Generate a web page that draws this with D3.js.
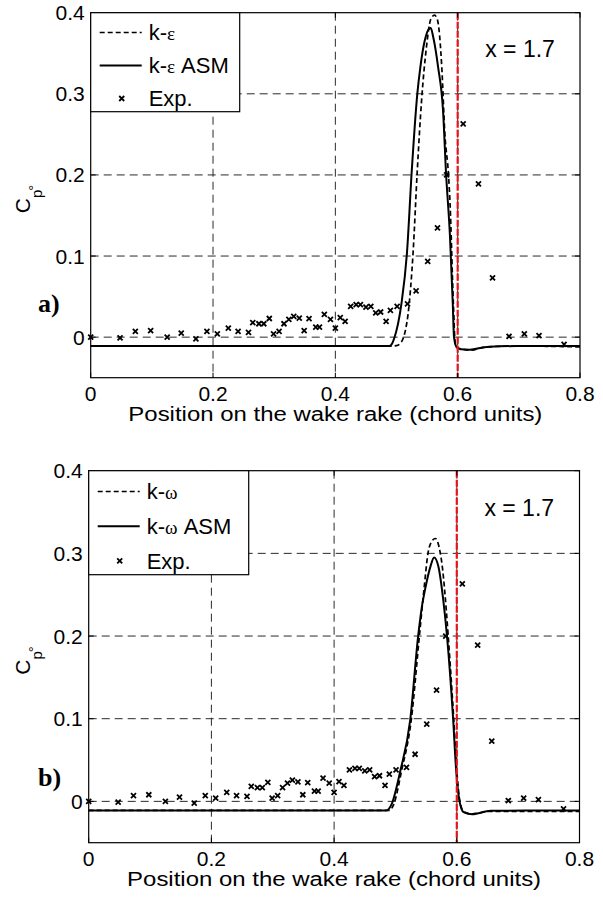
<!DOCTYPE html>
<html><head><meta charset="utf-8">
<script src="https://cdn.jsdelivr.net/npm/d3@7"></script>
<style>
html,body{margin:0;padding:0;background:#fff;}
svg{display:block;}
text{font-family:"Liberation Sans",Arial,sans-serif;fill:#000;}
</style></head><body>
<svg id="chart" width="603" height="899"></svg>
<script>
// ---------------- data ----------------
const xTicks = [0, 0.2, 0.4, 0.6, 0.8];
const xTickLabels = ["0", "0.2", "0.4", "0.6", "0.8"];
const yTicks = [0, 0.1, 0.2, 0.3, 0.4];
const yTickLabels = ["0", "0.1", "0.2", "0.3", "0.4"];
const xTitle = "Position on the wake rake (chord units)";
const stationLabel = "x = 1.7";
const markerLine = 0.6;

// experimental points (same measurement in both panels)
const expX = [0, 0.048, 0.073, 0.098, 0.125, 0.148, 0.172, 0.190, 0.207, 0.225, 0.241, 0.258,
  0.265, 0.275, 0.283, 0.292, 0.299, 0.308, 0.316, 0.324, 0.332, 0.341, 0.349, 0.357, 0.368,
  0.374, 0.382, 0.392, 0.400, 0.408, 0.416, 0.425, 0.434, 0.441, 0.450, 0.458, 0.466, 0.474,
  0.483, 0.490, 0.501, 0.518, 0.532, 0.551, 0.567, 0.582, 0.609, 0.634, 0.657, 0.684, 0.709,
  0.733, 0.774];
const expY = [0, -0.001, 0.007, 0.008, 0.0, 0.005, -0.002, 0.007, 0.004, 0.011, 0.007, 0.006,
  0.018, 0.0165, 0.0165, 0.023, 0.004, 0.007, 0.0165, 0.022, 0.0256, 0.0235, 0.008, 0.0227, 0.0123,
  0.0123, 0.028, 0.022, 0.011, 0.024, 0.0194, 0.038, 0.040, 0.040, 0.037, 0.038, 0.030, 0.031,
  0.0194, 0.033, 0.038, 0.041, 0.057, 0.0935, 0.1346, 0.200, 0.263, 0.189, 0.073, 0.001, 0.004,
  0.002, -0.009];

// panel a) k-epsilon
const keX = [0, 0.49, 0.5, 0.508, 0.515, 0.519, 0.527, 0.534, 0.541, 0.549, 0.556, 0.562, 0.567,
  0.574, 0.579, 0.585, 0.5875, 0.593, 0.596, 0.599, 0.62, 0.647, 0.7, 0.8];
const keY = [-0.011, -0.011, -0.0105, -0.006, 0.01, 0.029, 0.103, 0.206, 0.292, 0.358, 0.392, 0.397, 0.391,
  0.333, 0.251, 0.2, 0.165, 0.041, -0.008, -0.013, -0.016, -0.012, -0.011, -0.012];
const keAsmX = [0, 0.488, 0.492, 0.496, 0.508, 0.517, 0.525, 0.534, 0.539, 0.546, 0.553, 0.556, 0.560,
  0.568, 0.576, 0.581, 0.5875, 0.592, 0.594, 0.598, 0.605, 0.62, 0.647, 0.697, 0.8];
const keAsmY = [-0.011, -0.011, -0.009, -0.002, 0.041, 0.103, 0.206, 0.30, 0.333, 0.365, 0.38, 0.381, 0.370,
  0.333, 0.28, 0.202, 0.123, 0.041, 0.0, -0.012, -0.015, -0.0156, -0.012, -0.011, -0.011];

// panel b) k-omega
const kwX = [0, 0.49, 0.497, 0.51, 0.526, 0.539, 0.547, 0.553, 0.558, 0.565, 0.571, 0.577, 0.583,
  0.586, 0.595, 0.6, 0.605, 0.612, 0.625, 0.655, 0.8];
const kwY = [-0.011, -0.011, -0.004, 0.037, 0.1, 0.2, 0.26, 0.30, 0.313, 0.318, 0.308, 0.28, 0.23,
  0.2, 0.1, 0.037, 0.0, -0.013, -0.015, -0.012, -0.012];
const kwAsmX = [0, 0.485, 0.494, 0.508, 0.524, 0.537, 0.543, 0.549, 0.557, 0.563, 0.570, 0.578, 0.584,
  0.594, 0.599, 0.604, 0.611, 0.625, 0.655, 0.8];
const kwAsmY = [-0.011, -0.011, -0.003, 0.037, 0.098, 0.2, 0.235, 0.259, 0.284, 0.295, 0.284, 0.243, 0.2,
  0.1, 0.037, 0.002, -0.013, -0.0155, -0.0113, -0.011];

// ---------------- drawing ----------------
const svg = d3.select("#chart");
const FS = 21;

const panels = [
  {tag: "a)", left: 90.7, right: 580, top: 12.7, bottom: 377.7,
   dashX: keX, dashY: keY, solidX: keAsmX, solidY: keAsmY,
   greek: "\u03B5", legendW: 149, legendH: 99, tagY: 312},
  {tag: "b)", left: 88.7, right: 579.5, top: 470.7, bottom: 842.7,
   dashX: kwX, dashY: kwY, solidX: kwAsmX, solidY: kwAsmY,
   greek: "\u03C9", legendW: 160, legendH: 104, tagY: 786}
];

const zip = (xs, ys) => xs.map((x, i) => [x, ys[i]]);

panels.forEach(p => {
  const g = svg.append("g");
  const x = d3.scaleLinear().domain([0, 0.8]).range([p.left, p.right]);
  const y = d3.scaleLinear().domain([-0.05, 0.4]).range([p.bottom, p.top]);

  // grid
  g.selectAll(".gx").data(xTicks.filter(t => t > 0 && t < 0.8)).enter().append("line")
    .attr("x1", d => x(d)).attr("x2", d => x(d)).attr("y1", p.top).attr("y2", p.bottom)
    .attr("stroke", "#2a2a2a").attr("stroke-width", 1).attr("stroke-dasharray", "8,5");
  g.selectAll(".gy").data(yTicks.filter(t => t < 0.4)).enter().append("line")
    .attr("y1", d => y(d)).attr("y2", d => y(d)).attr("x1", p.left).attr("x2", p.right)
    .attr("stroke", "#2a2a2a").attr("stroke-width", 1).attr("stroke-dasharray", "8,5");

  const line = d3.line().x(d => x(d[0])).y(d => y(d[1])).curve(d3.curveMonotoneX);

  // curves
  g.append("path").datum(zip(p.solidX, p.solidY)).attr("d", line)
    .attr("fill", "none").attr("stroke", "#000").attr("stroke-width", 2);
  g.append("path").datum(zip(p.dashX, p.dashY)).attr("d", line)
    .attr("fill", "none").attr("stroke", "#000").attr("stroke-width", 1.7)
    .attr("stroke-dasharray", "5,3");

  // experimental markers
  const mk = 2.5;
  const cross = (cx, cy) => `M${cx-mk},${cy-mk}L${cx+mk},${cy+mk}M${cx-mk},${cy+mk}L${cx+mk},${cy-mk}`;
  g.selectAll(".exp").data(zip(expX, expY)).enter().append("path")
    .attr("d", d => cross(x(d[0]), y(d[1])))
    .attr("stroke", "#000").attr("stroke-width", 1.8).attr("fill", "none");

  // red marker line
  g.append("line").attr("x1", x(markerLine)).attr("x2", x(markerLine))
    .attr("y1", p.top).attr("y2", p.bottom)
    .attr("stroke", "#e8141b").attr("stroke-width", 2.2).attr("stroke-dasharray", "7,2");

  // box
  g.append("rect").attr("x", p.left).attr("y", p.top)
    .attr("width", p.right - p.left).attr("height", p.bottom - p.top)
    .attr("fill", "none").attr("stroke", "#000").attr("stroke-width", 1.2);

  // ticks (inward, all sides)
  const tl = 5;
  xTicks.forEach(t => {
    g.append("line").attr("x1", x(t)).attr("x2", x(t)).attr("y1", p.bottom).attr("y2", p.bottom - tl)
      .attr("stroke", "#000");
    g.append("line").attr("x1", x(t)).attr("x2", x(t)).attr("y1", p.top).attr("y2", p.top + tl)
      .attr("stroke", "#000");
  });
  yTicks.forEach(t => {
    g.append("line").attr("x1", p.left).attr("x2", p.left + tl).attr("y1", y(t)).attr("y2", y(t))
      .attr("stroke", "#000");
    g.append("line").attr("x1", p.right).attr("x2", p.right - tl).attr("y1", y(t)).attr("y2", y(t))
      .attr("stroke", "#000");
  });

  // tick labels
  g.selectAll(".xl").data(xTicks).enter().append("text")
    .attr("x", d => x(d)).attr("y", p.bottom + 23).attr("text-anchor", "middle")
    .attr("font-size", FS).text((d, i) => xTickLabels[i]);
  g.selectAll(".yl").data(yTicks).enter().append("text")
    .attr("x", p.left - 6).attr("y", d => y(d) + 7.5).attr("text-anchor", "end")
    .attr("font-size", FS).text((d, i) => yTickLabels[i]);

  // axis title
  g.append("text").attr("x", (p.left + p.right) / 2).attr("y", p.bottom + 43)
    .attr("text-anchor", "middle").attr("font-size", 20)
    .attr("textLength", 414).attr("lengthAdjust", "spacingAndGlyphs").text(xTitle);

  // y label C_p°
  const cy = (p.top + p.bottom) / 2;
  const yl = g.append("text").attr("transform", `translate(30,${cy + 18}) rotate(-90)`)
    .attr("text-anchor", "start").attr("font-size", FS);
  yl.append("tspan").text("C");
  yl.append("tspan").attr("font-size", 15).attr("dy", 12).text("p");
  yl.append("tspan").attr("font-size", 15).attr("dy", -3).attr("dx", -1).text("\u00B0");

  // panel tag
  g.append("text").attr("x", 38).attr("y", p.tagY).attr("font-size", 26)
    .attr("font-weight", "bold").style("font-family", "'Liberation Serif','Times New Roman',serif")
    .text(p.tag);

  // station label
  g.append("text").attr("x", x(0.645)).attr("y", y(0.345)).attr("font-size", 23)
    .text(stationLabel);

  // legend
  const lg = g.append("g").attr("transform", `translate(${p.left},${p.top})`);
  lg.append("rect").attr("width", p.legendW).attr("height", p.legendH)
    .attr("fill", "#fff").attr("stroke", "#000").attr("stroke-width", 1.2);
  const rowH = p.legendH / 3;
  const rows = [
    {dash: true, label: ["k-", p.greek, ""]},
    {dash: false, label: ["k-", p.greek, " ASM"]},
    {marker: true, label: ["Exp.", "", ""]}
  ];
  rows.forEach((r, i) => {
    const ry = rowH * (i + 0.6);
    if (r.marker) {
      lg.append("path").attr("d", cross(31, ry))
        .attr("stroke", "#000").attr("stroke-width", 1.8);
    } else {
      lg.append("line").attr("x1", 9).attr("x2", 51).attr("y1", ry).attr("y2", ry)
        .attr("stroke", "#000").attr("stroke-width", r.dash ? 1.7 : 2)
        .attr("stroke-dasharray", r.dash ? "5,3" : null);
    }
    const t = lg.append("text").attr("x", 58).attr("y", ry + 8).attr("font-size", 22);
    t.append("tspan").text(r.label[0]);
    if (r.label[1]) t.append("tspan").style("font-family", "'Liberation Serif','Times New Roman',serif")
      .attr("font-size", 19).text(r.label[1]);
    if (r.label[2]) t.append("tspan").text(r.label[2]);
  });
});
</script>
</body></html>
